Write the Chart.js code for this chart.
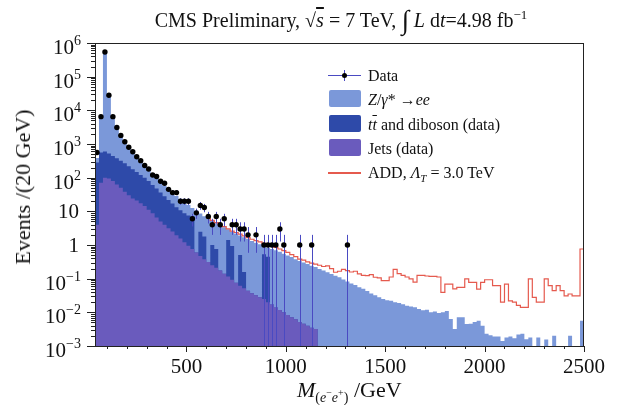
<!DOCTYPE html>
<html>
<head>
<meta charset="utf-8">
<script src="https://cdn.jsdelivr.net/npm/chart.js@4.4.0/dist/chart.umd.min.js"></script>
<style>
    body { margin: 0; background: #fff; }
    #quadro { position: relative; width: 618px; height: 405px; font-family: "Liberation Serif", "Times New Roman", serif; color: #111; }
    #grafico { position: absolute; left: 0; top: 0; }
    .texto { position: absolute; white-space: nowrap; line-height: 1; }
    #titulo { left: 341px; top: 5px; font-size: 20px; transform: translateX(-50%); }
    #titulo .integral { font-size: 27px; position: relative; top: 2px; }
    #titulo .sobre { text-decoration: overline; font-style: italic; }
    #titulo sup { font-size: 13px; }
    #rotuloX { left: 297px; top: 379px; font-size: 22px; }
    #rotuloX sub { font-size: 14px; }
    #rotuloX sub sup { font-size: 10px; }
    #rotuloY { left: 23px; top: 187px; font-size: 22px; transform: translate(-50%, -50%) rotate(-90deg); }
    #legenda { position: absolute; left: 328px; top: 64px; font-size: 16px; }
    .item { position: absolute; left: 0; height: 24px; width: 220px; }
    .item .rotulo { position: absolute; left: 40px; top: 3px; white-space: nowrap; }
    .caixa { position: absolute; left: 1px; top: 2px; width: 32px; height: 17px; border-radius: 2px; }
    .linha { position: absolute; left: 0; top: 11px; width: 33px; height: 1px; }
</style>
</head>
<body>
<div id="quadro">
    <canvas id="grafico" width="618" height="405"></canvas>
    <div class="texto" id="titulo">CMS Preliminary, <span>√<span class="sobre">s</span></span> = 7 TeV, <span class="integral">∫</span> <i>L</i> d<i>t</i>=4.98 fb<sup>−1</sup></div>
    <div class="texto" id="rotuloX"><i>M</i><sub>(<i>e</i><sup>−</sup><i>e</i><sup>+</sup>)</sub> /GeV</div>
    <div class="texto" id="rotuloY">Events /(20 GeV)</div>
    <div id="legenda"></div>
</div>
<script>
// bins de 20 GeV a partir de 40 GeV
const primeiroBin = 40;
const larguraBin = 20;
const massaMax = 2500;

// Z/gamma* -> ee (por bin)
const zee = [
    102, 5750, 524000, 27700, 6170, 2780, 1460, 853, 575, 397,
    269, 182, 124, 87, 65.6, 47.6, 37.8, 29.3, 23.8, 19.3,
    15.6, 12.7, 10.4, 7.9, 5.4, 9.9, 6.2, 5.4, 5.9, 4.2,
    3.7, 3.6, 3.2, 1.5, 1.57, 2.11, 1.4, 1.54, 1.47, 1.28,
    1.14, 1.02, 0.39, 0.38, 0.74, 0.68, 0.62, 0.54, 0.48, 0.43,
    0.37, 0.33, 0.30, 0.27, 0.24, 0.22, 0.195, 0.174, 0.155, 0.138,
    0.123, 0.110, 0.095, 0.083, 0.072, 0.065, 0.056, 0.050, 0.043, 0.036,
    0.032, 0.028, 0.025, 0.023, 0.022, 0.020, 0.019, 0.0174, 0.0158, 0.0148,
    0.0141, 0.0126, 0.0115, 0.012, 0.010, 0.0105, 0.0095, 0.010, 0.011, 0.0063,
    0.0032, 0.0071, 0.0072, 0.0045, 0.0046, 0.0052, 0.0056, 0.004, 0.0023, 0.0021,
    0.0019, 0.0019, 0.0014, 0.0018, 0.0019, 0.0017, 0.0022, 0.0023, 0.0016, 0.0018,
    0, 0.0018, 0, 0.00155, 0, 0.002, 0, 0, 0, 0.002,
    0, 0, 0.0056
];

// ttbar e diboson (data)
const ttbar = [
    278, 491, 503, 430, 358, 317, 266, 231, 189, 154,
    127, 103, 85.5, 68, 51.6, 41.3, 31.3, 24.2, 18.7, 14.5,
    11.2, 9.2, 7.5, 6.6, 6.4, 0, 2.0, 1.4, 0, 0.75,
    0.55, 0, 0, 1.3, 0.84, 0, 0.44, 0.106, 0, 0,
    0, 0, 0.51, 0.43
];

// Jets (data)
const jets = [
    4, 71, 100, 95, 79, 63, 50, 38, 30, 24,
    21, 17.4, 14.5, 11.2, 8.7, 6.6, 5.0, 4.0, 3.16, 2.5,
    1.95, 1.55, 1.2, 0.95, 0.76, 0.60, 0.47, 0.38, 0.31, 0.25,
    0.21, 0.174, 0.141, 0.115, 0.093, 0.076, 0.062, 0.052, 0.044, 0.037,
    0.032, 0.028, 0.025, 0.020, 0.017, 0.014, 0.0117, 0.010, 0.0083, 0.0072,
    0.0062, 0.0052, 0.0046, 0.004, 0.0035, 0.0032
];

// eventos observados por bin
const dados = [
    560, 6500, 540000, 28000, 6500, 3100, 1800, 1170, 800, 590,
    420, 320, 230, 180, 120, 108, 78, 68, 45, 36,
    36, 20, 20, 20, 6, 9, 15, 13, 7, 4,
    7, 4, 6, 0, 4, 4, 3, 3, 2, 0,
    2, 0, 1, 1, 1, 1, 3, 1, 0, 0,
    0, 1, 0, 0, 1, 0, 0, 0, 0, 0,
    0, 0, 0, 1
];

// ADD, Lambda_T = 3.0 TeV (a partir de 600 GeV)
const addInicio = 600;
const add = [
    6.3, 5.4, 4.6, 4.0, 3.5, 3.0, 2.6, 2.35, 2.1, 1.86,
    1.66, 1.48, 1.35, 1.23, 1.12, 1.02, 0.93, 0.85, 0.76, 0.68,
    0.60, 0.52, 0.45, 0.38, 0.355, 0.316, 0.29, 0.27, 0.25, 0.23,
    0.24, 0.20, 0.155, 0.166, 0.19, 0.174, 0.158, 0.166, 0.138, 0.126,
    0.123, 0.132, 0.11, 0.105, 0.087, 0.087, 0.112, 0.19, 0.141, 0.126,
    0.112, 0.098, 0.079, 0.126, 0.126, 0.12, 0.117, 0.117, 0.112, 0.039,
    0.069, 0.069, 0.050, 0.055, 0.055, 0.098, 0.078, 0.078, 0.049, 0.078,
    0.093, 0.093, 0.062, 0.062, 0.020, 0.069, 0.022, 0.020, 0.016, 0.014,
    0.014, 0.098, 0.028, 0.020, 0.020, 0.098, 0.062, 0.044, 0.062, 0.044,
    0.031, 0.035, 0.031, 0.031, 0.76
];

const yTickValores = [1e6, 1e5, 1e4, 1e3, 1e2, 10, 1, 0.1, 0.01, 0.001];
const yTickRotulos = [['10', '6'], ['10', '5'], ['10', '4'], ['10', '3'], ['10', '2'],
    ['10', ''], ['1', ''], ['10', '−1'], ['10', '−2'], ['10', '−3']];
const xTickValores = [500, 1000, 1500, 2000, 2500];
const xTickRotulos = ['500', '1000', '1500', '2000', '2500'];

const corZee = '#7b98d9';
const corTt = '#2e4aa9';
const corJets = '#6a5bbd';
const corAdd = '#e55a4e';
const corErro = '#4a4ac2';

// escala log nao aceita zero: bins vazios vao para bem abaixo do eixo
const piso = 1e-9;

const nBins = (massaMax - primeiroBin) / larguraBin;
let bordas = [];
for (let i = 0; i <= nBins; i++) {
    bordas.push(primeiroBin + i * larguraBin);
}

function degraus(valores, inicio) {
    let pts = [];
    for (let i = 0; i < valores.length; i++) {
        pts.push({ x: inicio + i * larguraBin, y: Math.max(valores[i], piso) });
    }
    pts.push({ x: inicio + valores.length * larguraBin, y: Math.max(valores[valores.length - 1], piso) });
    return pts;
}

// pilhas: jets, jets+tt, jets+tt+Z
let pilhaJets = [];
let pilhaTt = [];
let pilhaZ = [];
for (let i = 0; i < nBins; i++) {
    const j = jets[i] || 0;
    const t = j + (ttbar[i] || 0);
    pilhaJets.push(j);
    pilhaTt.push(t);
    pilhaZ.push(t + (zee[i] || 0));
}

let pontosDados = [];
dados.forEach((n, i) => {
    if (n > 0) pontosDados.push({ x: bordas[i] + larguraBin / 2, y: n });
});

const errosDados = {
    id: 'errosDados',
    beforeDatasetDraw(chart, args) {
        if (args.index !== 0) return;
        const { ctx, chartArea: a, scales: { x, y } } = chart;
        ctx.save();
        ctx.beginPath();
        ctx.rect(a.left, a.top, a.right - a.left, a.bottom - a.top);
        ctx.clip();
        ctx.strokeStyle = corErro;
        ctx.lineWidth = 1;
        pontosDados.forEach(p => {
            const s = Math.sqrt(p.y);
            const px = Math.round(x.getPixelForValue(p.x)) + 0.5;
            const py = y.getPixelForValue(p.y);
            const topo = y.getPixelForValue(p.y + s);
            const base = p.y - s > 0 ? y.getPixelForValue(p.y - s) : a.bottom;
            ctx.beginPath();
            ctx.moveTo(px, topo);
            ctx.lineTo(px, base);
            ctx.moveTo(x.getPixelForValue(p.x - larguraBin / 2), py);
            ctx.lineTo(x.getPixelForValue(p.x + larguraBin / 2), py);
            ctx.stroke();
        });
        ctx.restore();
    }
};

const eixos = {
    id: 'eixos',
    afterDraw(chart) {
        const { ctx, chartArea: a, scales: { x, y } } = chart;
        ctx.save();
        ctx.strokeStyle = '#222';
        ctx.lineWidth = 1;
        ctx.strokeRect(a.left + 0.5, a.top + 0.5, a.right - a.left - 1, a.bottom - a.top);

        // ticks do eixo y (log, com menores)
        ctx.beginPath();
        for (let e = -3; e <= 6; e++) {
            for (let m = 1; m <= 9; m++) {
                if (e === 6 && m > 1) break;
                const py = Math.round(y.getPixelForValue(m * Math.pow(10, e))) + 0.5;
                const comp = m === 1 ? 8 : 4;
                ctx.moveTo(a.left, py);
                ctx.lineTo(a.left - comp, py);
            }
        }
        // ticks do eixo x
        for (let v = 100; v <= massaMax; v += 100) {
            const px = Math.round(x.getPixelForValue(v)) + 0.5;
            const comp = v % 500 === 0 ? 6 : 3;
            ctx.moveTo(px, a.bottom);
            ctx.lineTo(px, a.bottom + comp);
        }
        ctx.stroke();

        ctx.fillStyle = '#111';
        ctx.textBaseline = 'alphabetic';
        const fonteTick = '21px "Liberation Serif", serif';
        const fonteSup = '14px "Liberation Serif", serif';
        ctx.textAlign = 'right';
        yTickValores.forEach((v, k) => {
            const py = y.getPixelForValue(v);
            const [base, exp] = yTickRotulos[k];
            const direita = a.left - 14;
            if (exp === '') {
                ctx.font = fonteTick;
                ctx.fillText(base, direita - 2, py + 7);
            } else {
                ctx.font = fonteSup;
                const w = ctx.measureText(exp).width;
                ctx.fillText(exp, direita, py + 2);
                ctx.font = fonteTick;
                ctx.fillText(base, direita - w, py + 11);
            }
        });
        ctx.textAlign = 'center';
        ctx.font = fonteTick;
        xTickValores.forEach((v, k) => {
            ctx.fillText(xTickRotulos[k], x.getPixelForValue(v), a.bottom + 27);
        });
        ctx.restore();
    }
};

const ctx = document.getElementById('grafico').getContext('2d');
const myChart = new Chart(ctx, {
    type: 'line',
    data: {
        datasets: [
            {
                label: 'Data',
                data: pontosDados,
                showLine: false,
                pointRadius: 2.7,
                pointBackgroundColor: '#000',
                pointBorderWidth: 0,
                order: 0
            },
            {
                label: 'ADD',
                data: degraus(add, addInicio),
                stepped: true,
                borderColor: corAdd,
                borderWidth: 1.2,
                pointRadius: 0,
                fill: false,
                order: 1
            },
            {
                label: 'Jets (data)',
                data: degraus(pilhaJets, primeiroBin),
                stepped: true,
                borderColor: 'rgba(0,0,0,0)',
                backgroundColor: corJets,
                borderWidth: 1,
                pointRadius: 0,
                fill: 'start',
                order: 2
            },
            {
                label: 'tt and diboson (data)',
                data: degraus(pilhaTt, primeiroBin),
                stepped: true,
                borderColor: 'rgba(0,0,0,0)',
                backgroundColor: corTt,
                borderWidth: 1,
                pointRadius: 0,
                fill: 'start',
                order: 3
            },
            {
                label: 'Z/gamma* -> ee',
                data: degraus(pilhaZ, primeiroBin),
                stepped: true,
                borderColor: 'rgba(0,0,0,0)',
                backgroundColor: corZee,
                borderWidth: 1,
                pointRadius: 0,
                fill: 'start',
                order: 4
            }
        ]
    },
    options: {
        responsive: false,
        animation: false,
        layout: { padding: { left: 95, right: 34, top: 43, bottom: 59 } },
        scales: {
            x: { type: 'linear', min: primeiroBin, max: massaMax, display: false },
            y: { type: 'logarithmic', min: 1e-3, max: 1e6, display: false }
        },
        plugins: {
            legend: { display: false },
            tooltip: { enabled: false }
        }
    },
    plugins: [errosDados, eixos]
});

// legenda
const itensLegenda = [
    { tipo: 'dados', texto: 'Data' },
    { tipo: 'caixa', cor: corZee, texto: '<i>Z</i>/<i>γ</i>* →<i>ee</i>' },
    { tipo: 'caixa', cor: corTt, texto: '<i>t<span style="text-decoration:overline">t</span></i> and diboson (data)' },
    { tipo: 'caixa', cor: corJets, texto: 'Jets (data)' },
    { tipo: 'linha', cor: corAdd, texto: 'ADD, <i>Λ<sub style="font-size:11px">T</sub></i> = 3.0 TeV' }
];
const legenda = document.getElementById('legenda');
itensLegenda.forEach((item, k) => {
    const div = document.createElement('div');
    div.className = 'item';
    div.style.top = (k * 24.3) + 'px';
    let simbolo = '';
    if (item.tipo === 'dados') {
        simbolo = `<div class="linha" style="background:${corErro}"></div>
            <div style="position:absolute;left:16px;top:6px;width:1px;height:11px;background:${corErro}"></div>
            <div style="position:absolute;left:14px;top:9px;width:5px;height:5px;border-radius:50%;background:#000"></div>`;
    } else if (item.tipo === 'caixa') {
        simbolo = `<div class="caixa" style="background:${item.cor}"></div>`;
    } else {
        simbolo = `<div class="linha" style="background:${item.cor};height:1.5px"></div>`;
    }
    div.innerHTML = simbolo + `<span class="rotulo">${item.texto}</span>`;
    legenda.appendChild(div);
});
</script>
</body>
</html>
